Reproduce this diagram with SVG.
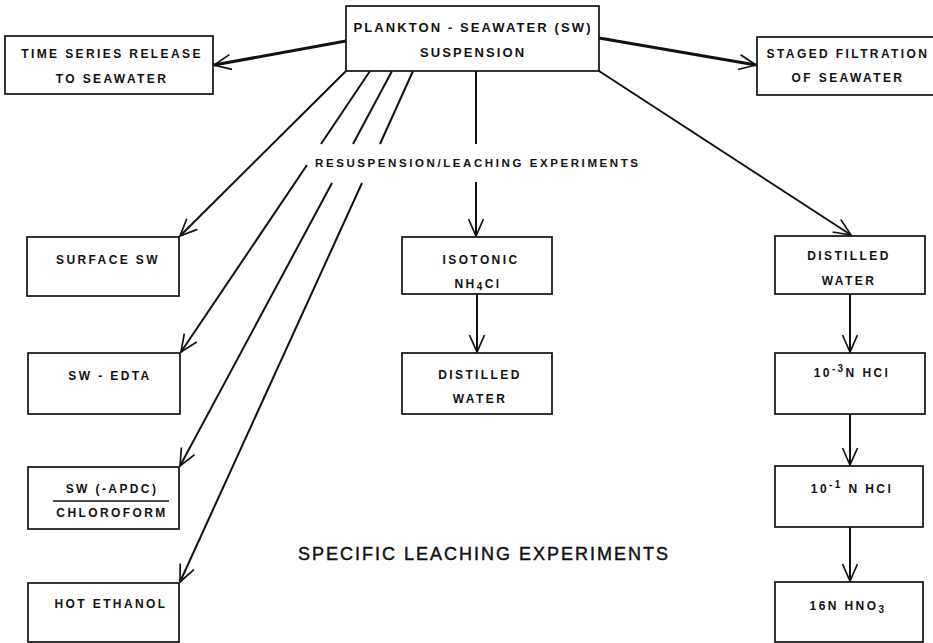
<svg xmlns="http://www.w3.org/2000/svg" width="933" height="643" viewBox="0 0 933 643">
<style>
  .box{fill:#fff;stroke:#111;stroke-width:1.7}
  .t{font-family:"Liberation Sans",Arial,sans-serif;font-weight:bold;font-size:12px;letter-spacing:2.4px;fill:#111;text-anchor:middle}
  .tt{font-size:13px;letter-spacing:2.1px}
  .lbl{font-family:"Liberation Sans",Arial,sans-serif;font-weight:bold;font-size:11.5px;fill:#111}
  .big{font-family:"Liberation Sans",Arial,sans-serif;font-size:18px;fill:#111;stroke:#111;stroke-width:0.45}
  .ln{fill:none;stroke:#111;stroke-width:2}
  .thick{fill:none;stroke:#111;stroke-width:3}
  .ar{marker-end:url(#v)}
</style>
<defs>
  <marker id="v" viewBox="-20 -10 22 20" refX="0" refY="0" markerWidth="22" markerHeight="20" orient="auto" markerUnits="userSpaceOnUse">
    <path d="M-17,-7.5 L0,0 L-17,7.5" fill="none" stroke="#111" stroke-width="1.7"/>
  </marker>
</defs>

<g id="connectors">
  <line class="thick ar" x1="346" y1="41" x2="214" y2="65"/>
  <line class="thick ar" x1="599" y1="38" x2="756" y2="65"/>
  <line class="ln ar" x1="346" y1="71" x2="180" y2="236"/>
  <line class="ln" x1="370" y1="71" x2="321" y2="144"/>
  <line class="ln ar" x1="307" y1="165" x2="181" y2="352"/>
  <line class="ln" x1="392" y1="71" x2="353" y2="144"/>
  <line class="ln ar" x1="332" y1="183" x2="180" y2="466"/>
  <line class="ln" x1="413" y1="71" x2="380" y2="144"/>
  <line class="ln ar" x1="362" y1="183" x2="180" y2="582"/>
  <line class="ln" x1="476" y1="71" x2="476" y2="144"/>
  <line class="ln ar" x1="476" y1="182" x2="476" y2="236"/>
  <line class="ln ar" x1="599" y1="71" x2="851" y2="235"/>
  <line class="ln ar" x1="477" y1="294" x2="477" y2="352"/>
  <line class="ln ar" x1="850" y1="294" x2="850" y2="352"/>
  <line class="ln ar" x1="850" y1="414" x2="850" y2="465"/>
  <line class="ln ar" x1="850" y1="527" x2="850" y2="581"/>
</g>

<g id="plankton">
  <rect class="box" x="346" y="6" width="253" height="65"/>
  <text class="t tt" x="473" y="32">PLANKTON - SEAWATER (SW)</text>
  <text class="t tt" x="473" y="57">SUSPENSION</text>
</g>
<g id="timeseries">
  <rect class="box" x="5" y="36" width="208" height="58"/>
  <text class="t" x="112" y="58">TIME SERIES RELEASE</text>
  <text class="t" x="112" y="83">TO SEAWATER</text>
</g>
<g id="staged">
  <rect class="box" x="757" y="37" width="190" height="58"/>
  <text class="t" x="848" y="58">STAGED FILTRATION</text>
  <text class="t" x="848" y="82">OF SEAWATER</text>
</g>

<g id="resuspension-label">
  <text class="lbl" x="315" y="167" textLength="323" lengthAdjust="spacing">RESUSPENSION/LEACHING EXPERIMENTS</text>
</g>

<g id="surface">
  <rect class="box" x="27" y="237" width="152" height="59"/>
  <text class="t" x="108" y="264">SURFACE SW</text>
</g>
<g id="edta">
  <rect class="box" x="28" y="353" width="152" height="61"/>
  <text class="t" x="110" y="380">SW - EDTA</text>
</g>
<g id="apdc">
  <rect class="box" x="28" y="467" width="151" height="62"/>
  <text class="t" x="112" y="493">SW (-APDC)</text>
  <line x1="53" y1="501" x2="169" y2="501" stroke="#111" stroke-width="1.5"/>
  <text class="t" x="112" y="517">CHLOROFORM</text>
</g>
<g id="ethanol">
  <rect class="box" x="28" y="583" width="151" height="59"/>
  <text class="t" x="111" y="608">HOT ETHANOL</text>
</g>

<g id="isotonic">
  <rect class="box" x="402" y="237" width="150" height="57"/>
  <text class="t" x="481" y="264">ISOTONIC</text>
  <text class="t" x="478" y="288">NH<tspan font-size="10" dy="2">4</tspan><tspan dy="-2">Cl</tspan></text>
</g>
<g id="distilled-mid">
  <rect class="box" x="402" y="353" width="150" height="61"/>
  <text class="t" x="480" y="379">DISTILLED</text>
  <text class="t" x="480" y="403">WATER</text>
</g>

<g id="distilled-right">
  <rect class="box" x="775" y="236" width="150" height="58"/>
  <text class="t" x="849" y="260">DISTILLED</text>
  <text class="t" x="849" y="285">WATER</text>
</g>
<g id="hcl3">
  <rect class="box" x="775" y="353" width="150" height="61"/>
  <text class="t" x="852" y="377">10<tspan font-size="10" dy="-5">-3</tspan><tspan dy="5">N HCl</tspan></text>
</g>
<g id="hcl1">
  <rect class="box" x="775" y="466" width="148" height="61"/>
  <text class="t" x="852" y="493">10<tspan font-size="10" dy="-5">-1</tspan><tspan dy="5"> N HCl</tspan></text>
</g>
<g id="hno3">
  <rect class="box" x="775" y="582" width="148" height="60"/>
  <text class="t" x="848" y="610">16N HNO<tspan font-size="10" dy="3">3</tspan></text>
</g>

<g id="specific-label">
  <text class="big" x="298" y="560" textLength="370" lengthAdjust="spacing">SPECIFIC LEACHING EXPERIMENTS</text>
</g>
</svg>
